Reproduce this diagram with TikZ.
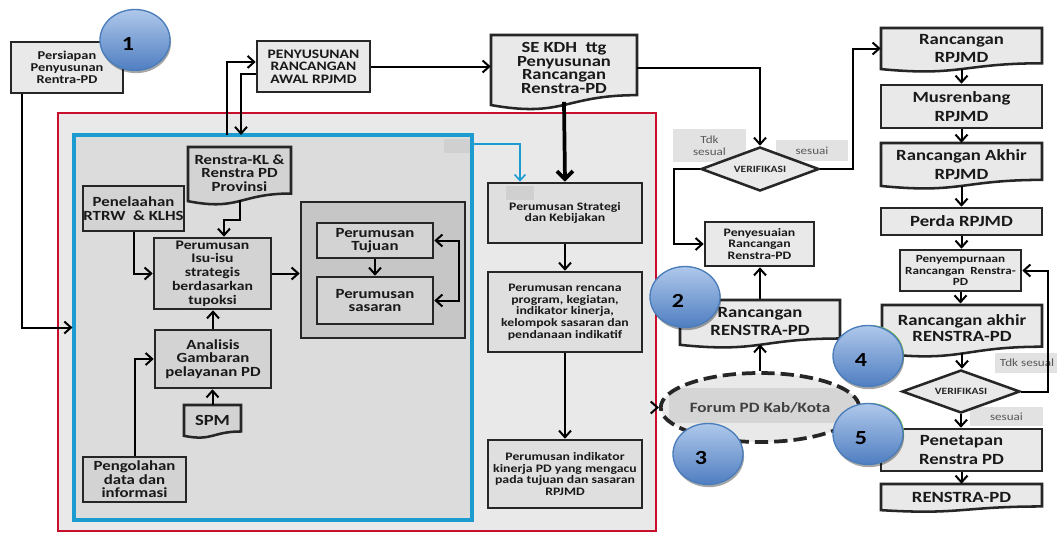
\documentclass[tikz,border=0pt]{standalone}
\usepackage{fontspec}
\setmainfont[FakeStretch=1.2]{Carlito}
\usetikzlibrary{arrows.meta,shapes.geometric,shadows,calc}

\definecolor{boxline}{HTML}{262626}
\definecolor{outfill}{HTML}{E9E9E9}
\definecolor{midfill}{HTML}{DFDFDF}
\definecolor{infill}{HTML}{D3D3D3}
\definecolor{redfill}{HTML}{E9E9E9}
\definecolor{bluefill}{HTML}{DCDCDC}
\definecolor{redline}{HTML}{C8102E}
\definecolor{blueline}{HTML}{1B9BD0}
\definecolor{tagfill}{HTML}{E2E2E2}
\definecolor{patchc}{HTML}{D0D0D0}
\definecolor{circtop}{HTML}{AFC8EA}
\definecolor{circbot}{HTML}{4F7EC1}
\definecolor{circline}{HTML}{4A7DBA}
\definecolor{leafgreen}{HTML}{7DC242}

\newcommand{\fsmall}{\fontsize{8.6}{8.7}\selectfont}
\newcommand{\fmid}{\fontsize{10.5}{10.2}\selectfont}
\newcommand{\fbig}{\fontsize{11.7}{13.8}\selectfont}

% document shape: left, top, right, height
\newcommand{\docshape}[5][outfill]{%
  \pgfmathsetmacro\dmid{(#2+#4)/2}%
  \pgfmathsetmacro\dra{#3+0.802*#5}%
  \pgfmathsetmacro\drb{#3+1.107*#5}%
  \pgfmathsetmacro\drl{#3+0.934*#5}%
  \draw[docline, fill=#1] (#2,#3) -- (#4,#3) -- (#4,\dra)
    .. controls (\dmid,\dra) and (\dmid,\drb) .. (#2,\drl) -- cycle;}

\tikzset{
  sz/.style 2 args={minimum width=#1*0.75pt, minimum height=#2*0.75pt},
  box/.style={draw=boxline, line width=1.9pt, fill=outfill, inner sep=0pt,
    align=center, font=\bfseries\fsmall, text=black!90},
  inbox/.style={box, fill=infill, font=\bfseries\fmid},
  doc/.style={inner sep=0pt, align=center, font=\bfseries\fsmall, text=black!90},
  docline/.style={draw=boxline, line width=1.9pt},
  decide/.style={diamond, draw=boxline, line width=1.9pt, fill=outfill, aspect=2.7,
    inner sep=0pt, font=\bfseries\fontsize{7.2}{8}\selectfont, text=black!85},
  tag/.style={fill=tagfill, inner sep=0pt, align=center,
    font=\fontsize{8.2}{8.8}\selectfont, text=black!65},
  conn/.style={->, draw=black, line width=1.5pt},
  thickconn/.style={-{Straight Barb[length=6pt,width=12pt]}, line width=2.8pt},
  blueconn/.style={-{Straight Barb[length=4.5pt,width=8pt]}, draw=blueline, line width=1.2pt},
  redframe/.style={draw=redline, line width=1.4pt, fill=redfill, inner sep=0pt},
  blueframe/.style={draw=blueline, line width=2.3pt, fill=bluefill, inner sep=0pt},
  forumst/.style={ellipse, draw=boxline, line width=2.8pt, dash pattern=on 10pt off 4.5pt,
    fill=outfill, inner sep=0pt, font=\bfseries\fontsize{10.7}{11}\selectfont, text=black!75},
  patch/.style={fill=patchc},
  badge/.style={ellipse, draw=circline, line width=1pt, top color=circtop,
    bottom color=circbot, inner sep=0pt,
    drop shadow={shadow xshift=0.8pt, shadow yshift=-2pt, opacity=0.35, fill=black}},
  digit/.style={font=\bfseries\fontsize{15}{15}\selectfont, text=black}
}

\begin{document}
\begin{tikzpicture}[x=0.75pt,y=-0.75pt,>={Straight Barb[length=5pt,width=9pt]}]
\useasboundingbox (0,0) rectangle (1057,533);

% frames
\node[redframe, sz={598}{418}] (redbox) at (357,322) {};
\node[blueframe, sz={398}{385}] (bluebox) at (273,327.5) {};
\node[box, fill=infill!94!black, sz={164}{136}] (tsout) at (383,270) {};
\fill[patch] (444,139) rectangle (470,153);

% labels at the checks
\node[tag, sz={73}{33}] (tdkA) at (709.5,145.5) {Tdk\\sesual};
\node[tag, sz={72}{21}] (okA) at (812,150.5) {sesuai};
\node[tag, sz={64}{20}] (tdkB) at (1027,363) {Tdk sesual};
\node[tag, sz={73}{19}] (okB) at (1006.5,416.5) {sesuai};

% document shapes
\docshape{491}{35}{637}{75}
\docshape[infill]{188}{147}{291}{58}
\docshape[infill]{184}{405}{241}{33}
\docshape{680}{300}{840}{48}
\docshape{881}{28}{1042}{44}
\docshape{881}{143}{1042}{46}
\docshape{882}{305}{1042}{52}
\docshape{881}{484}{1042}{28}

% top row
\node[box, font=\bfseries\fontsize{9}{8.8}\selectfont, sz={112}{51}] (prep) at (67,67.5) {Persiapan\\Penyusunan\\Rentra-PD};
\node[box, font=\bfseries\fontsize{9.7}{9.4}\selectfont, sz={113}{51}] (awal) at (313.5,66.5) {PENYUSUNAN\\RANCANGAN\\AWAL RPJMD};
\node[doc, font=\bfseries\fontsize{11.6}{10.4}\selectfont, sz={146}{70}] (sekdh) at (564,68) {SE KDH\ \ ttg\\Penyusunan\\Rancangan\\Renstra-PD};

% middle column
\node[box, fill=midfill, sz={154}{60}] (strat) at (565,213) {Perumusan Strategi\\dan Kebijakan};
\fill[patch] (506,186) rectangle (534,200);
\node[box, fill=midfill, sz={154}{80}] (renc) at (565,312) {Perumusan rencana\\program, kegiatan,\\indikator kinerja,\\kelompok sasaran dan\\pendanaan indikatif};
\node[box, fill=midfill, sz={154}{68}] (indik) at (565,474) {Perumusan indikator\\kinerja PD yang mengacu\\pada tujuan dan sasaran\\RPJMD};

% inside the blue frame
\node[doc, font=\bfseries\fmid, sz={103}{54}] (kl) at (239.5,173) {Renstra-KL \&\\Renstra PD\\Provinsi};
\node[inbox, sz={101}{45}] (rtrw) at (133.5,208.5) {Penelaahan\\RTRW\ \ \& KLHS};
\node[inbox, font=\bfseries\fontsize{9.8}{10.3}\selectfont, sz={117}{71}] (isu) at (212.5,273.5) {Perumusan\\Isu-isu\\strategis\\berdasarkan\\tupoksi};
\node[inbox, sz={116}{35}] (tujuan) at (375,240.5) {Perumusan\\Tujuan};
\node[inbox, sz={116}{47}] (sasaran) at (375,300.5) {Perumusan\\sasaran};
\node[inbox, sz={116}{58}] (gambar) at (213,359) {Analisis\\Gambaran\\pelayanan PD};
\node[doc, font=\bfseries\fontsize{11.6}{12}\selectfont, sz={57}{31}] (spm) at (212.5,420.5) {SPM};
\node[inbox, sz={103}{45}] (olah) at (134.5,479.5) {Pengolahan\\data dan\\informasi};

% renstra column
\node[decide, sz={118}{44}] (cekA) at (760,169) {VERIFIKASI};
\node[box, sz={109}{44}] (sesuaikan) at (759.5,244) {Penyesuaian\\Rancangan\\Renstra-PD};
\node[doc, font=\bfseries\fbig, sz={160}{45}] (rancren) at (760,321.5) {Rancangan\\RENSTRA-PD};
\node[forumst, sz={172}{69}, path picture={\fill[patchc!80!outfill]
  ([xshift=6pt,yshift=-11.25pt]path picture bounding box.north west) rectangle
  ([xshift=-3pt,yshift=14.25pt]path picture bounding box.south east);}] (forum) at (760,407.5) {Forum PD Kab/Kota};

% rpjmd column
\node[doc, font=\bfseries\fbig, sz={161}{41}] (rancrp) at (961.5,48.5) {Rancangan\\RPJMD};
\node[box, font=\bfseries\fbig, sz={161}{43}] (musren) at (961.5,106.5) {Musrenbang\\RPJMD};
\node[doc, font=\bfseries\fbig, sz={161}{43}] (akhirrp) at (961.5,164.5) {Rancangan Akhir\\RPJMD};
\node[box, font=\bfseries\fbig, sz={161}{27}] (perda) at (961.5,221.5) {Perda RPJMD};
\node[box, font=\bfseries\fontsize{8.2}{8.7}\selectfont, sz={121}{41}] (sempurna) at (960.5,270.5) {Penyempurnaan\\Rancangan\ \ Renstra-\\PD};
\node[doc, font=\bfseries\fontsize{11.7}{11.5}\selectfont, sz={160}{48.5}] (akhirren) at (962,328) {Rancangan akhir\\RENSTRA-PD};
\node[decide, sz={118}{43}] (cekB) at (961,391.5) {VERIFIKASI};
\node[box, font=\bfseries\fbig, sz={161}{42}] (tetap) at (961.5,450) {Penetapan\\Renstra PD};
\node[doc, font=\bfseries\fbig, sz={161}{26}] (final) at (961.5,497) {RENSTRA-PD};

% connectors
\coordinate (upA) at (227,135);
\coordinate (upB) at (241,135);
\draw[conn] ([xshift=9pt]prep.south west) |- (bluebox.west);
\draw[conn] (upA) |- ([yshift=3.4pt]awal.west);
\draw[conn] ([yshift=-5.6pt]awal.west) -| (upB);
\draw[conn] (awal.east) -- (awal.east -| sekdh.west);
\draw[conn] (sekdh.east) -| (cekA.north);
\draw[thickconn] ([yshift=1pt]sekdh.south) -- (strat.north);
\draw[blueconn] ([yshift=-8pt]bluebox.north east) -| ([xshift=-33.75pt]strat.north);
\draw[conn] (strat.south) -- (renc.north);
\draw[conn] (renc.south) -- (indik.north);
\draw[conn] (redbox.east |- forum.west) -- (forum.west);
\draw[conn] (forum.north) -- (forum.north |- rancren.south);
\draw[conn] (rancren.north) -- (rancren.north |- sesuaikan.south);
\draw[conn] (cekA.west) -- ++(-19.5pt,0) |- (sesuaikan.west);
\draw[conn] (cekA.east) -- ++(24.75pt,0) |- (rancrp.west);
\foreach \a/\b in {rancrp/musren, musren/akhirrp, akhirrp/perda, perda/sempurna,
  sempurna/akhirren, akhirren/cekB, cekB/tetap, tetap/final}
  \draw[conn] (\a.south) -- (\a.south |- \b.north);
\draw[conn] (cekB.east) -- ++(20.25pt,0) |- (sempurna.east);
\draw[conn] (kl.south) -- ++(0,-15pt) -| ([xshift=8.6pt]isu.north);
\draw[conn] (rtrw.south) |- (isu.west);
\draw[conn] (isu.east) -- (isu.east -| tsout.west);
\draw[conn] (tujuan.south) -- (sasaran.north);
\draw[conn, <->] (tujuan.east) -- ++(18.75pt,0) |- (sasaran.east);
\draw[conn] (gambar.north) -- (gambar.north |- isu.south);
\draw[conn] (spm.north) -- (spm.north |- gambar.south);
\draw[conn] (olah.north) |- (gambar.west);

% numbered badges
\node[ellipse, fill=leafgreen, sz={68}{60}] (leafA) at (870,355) {};
\node[ellipse, fill=leafgreen, sz={68}{60}] (leafB) at (870,433) {};
\foreach \n/\x/\y in {1/135/40, 2/685/297, 3/708/454, 4/868/356, 5/868/434} {
  \node[badge, sz={70}{61}] (b\n) at (\x,\y) {};
  \node[digit] (d\n) at ($(b\n)+(-7,4)$) {\n};
}
\end{tikzpicture}
\end{document}
